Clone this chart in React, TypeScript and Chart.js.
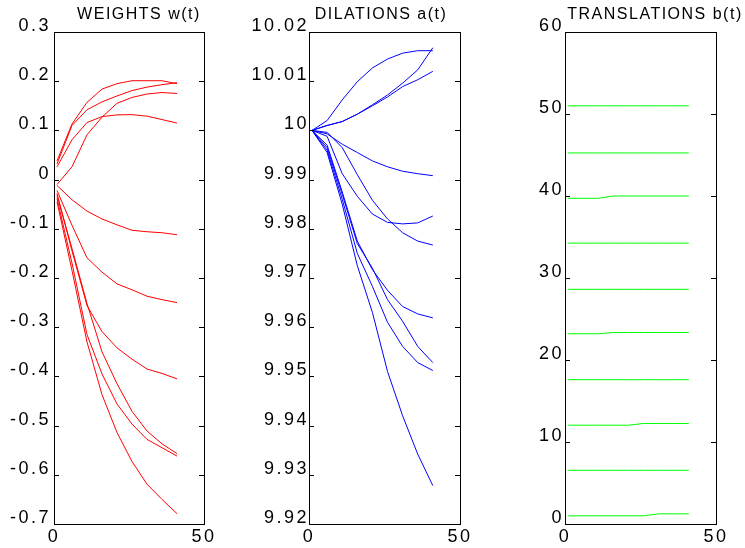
import { useEffect, useRef } from "react";
import { Chart, registerables } from "chart.js";

Chart.register(...registerables);

// Time steps at which the network parameters were sampled
const steps = [1, 6, 11, 16, 21, 26, 31, 36, 41];

// Output weights w(t), one row per wavelet neuron
const weightSeries: number[][] = [
  [0.038, 0.113, 0.157, 0.184, 0.195, 0.201, 0.201, 0.201, 0.195],
  [0.032, 0.11, 0.142, 0.158, 0.17, 0.181, 0.188, 0.193, 0.197],
  [0.026, 0.081, 0.116, 0.128, 0.1315, 0.132, 0.129, 0.122, 0.115],
  [-0.01, 0.026, 0.091, 0.127, 0.155, 0.167, 0.174, 0.177, 0.175],
  [-0.012, -0.041, -0.064, -0.08, -0.092, -0.103, -0.106, -0.108, -0.112],
  [-0.022, -0.093, -0.159, -0.188, -0.212, -0.224, -0.237, -0.244, -0.25],
  [-0.028, -0.145, -0.256, -0.309, -0.342, -0.365, -0.385, -0.394, -0.405],
  [-0.032, -0.14, -0.252, -0.35, -0.415, -0.471, -0.511, -0.537, -0.557],
  [-0.038, -0.17, -0.315, -0.395, -0.456, -0.497, -0.528, -0.545, -0.562],
  [-0.045, -0.185, -0.33, -0.437, -0.514, -0.573, -0.619, -0.65, -0.679],
];

// Dilations a(t)
const dilationSeries: number[][] = [
  [10, 10.002, 10.0062, 10.0099, 10.0127, 10.0145, 10.0157, 10.0162, 10.0162],
  [10, 10.001, 10.0018, 10.0033, 10.0052, 10.0072, 10.0096, 10.0123, 10.0168],
  [10, 10.001, 10.0018, 10.0033, 10.005, 10.0068, 10.0089, 10.0103, 10.012],
  [10, 9.9993, 9.9972, 9.9955, 9.9938, 9.9926, 9.9917, 9.9912, 9.9908],
  [10, 9.9988, 9.9912, 9.9866, 9.983, 9.9813, 9.981, 9.9812, 9.9826],
  [10, 9.9996, 9.9965, 9.991, 9.9858, 9.982, 9.9792, 9.9775, 9.9767],
  [10, 9.997, 9.9875, 9.9775, 9.9717, 9.9675, 9.9642, 9.9627, 9.9619],
  [10, 9.9965, 9.987, 9.977, 9.972, 9.9656, 9.9612, 9.9561, 9.9528],
  [10, 9.996, 9.986, 9.975, 9.9683, 9.961, 9.9561, 9.9528, 9.9512],
  [10, 9.9955, 9.985, 9.9725, 9.963, 9.951, 9.942, 9.9342, 9.9278],
];

// Translations b(t)
const translationSeries: number[][] = [
  [51, 51, 51, 51, 51, 51, 51, 51, 51],
  [45.25, 45.25, 45.25, 45.25, 45.25, 45.25, 45.25, 45.25, 45.25],
  [39.72, 39.72, 39.72, 40, 40, 40, 40, 40, 40],
  [34.25, 34.25, 34.25, 34.25, 34.25, 34.25, 34.25, 34.25, 34.25],
  [28.62, 28.62, 28.62, 28.62, 28.62, 28.62, 28.62, 28.62, 28.62],
  [23.2, 23.2, 23.2, 23.35, 23.35, 23.35, 23.35, 23.35, 23.35],
  [17.6, 17.6, 17.6, 17.6, 17.6, 17.6, 17.6, 17.6, 17.6],
  [12.05, 12.05, 12.05, 12.05, 12.05, 12.26, 12.26, 12.26, 12.26],
  [6.55, 6.55, 6.55, 6.55, 6.55, 6.55, 6.55, 6.55, 6.55],
  [1.0, 1.0, 1.0, 1.0, 1.0, 1.0, 1.24, 1.24, 1.24],
];

const titles = ["WEIGHTS w(t)", "DILATIONS a(t)", "TRANSLATIONS b(t)"];
const colors = ["#ff0000", "#0000ff", "#00ff00"];
const yRanges = [
  { min: -0.7, max: 0.3, step: 0.1, decimals: 2 },
  { min: 9.92, max: 10.02, step: 0.01, decimals: 3 },
  { min: 0, max: 60, step: 10, decimals: 0 },
];
const xRange = { min: 0, max: 50, step: 50 };

const W = 745;
const H = 548;
const FONT = "'Liberation Sans', Arial, Helvetica, sans-serif";
const TICK_FONT_SIZE = 18;

type Layout = { left: number; right: number; titleX: number; labelPad: number };
const layouts: Layout[] = [
  { left: 54, right: 204, titleX: 139, labelPad: 3 },
  { left: 309, right: 460, titleX: 381, labelPad: 0 },
  { left: 565, right: 716, titleX: 655, labelPad: 1 },
];
const AREA_TOP = 32;
const AREA_BOTTOM = 524;

// Box around the plot area, inward tick marks on both sides, and the title
const framePlugin = {
  id: "frame",
  beforeDraw(chart: any) {
    (chart.ctx as any).letterSpacing = "2.5px";
  },
  afterDraw(chart: any, _args: any, opts: any) {
    const { ctx, chartArea } = chart;
    const { left, right, top, bottom } = chartArea;
    ctx.save();
    (ctx as any).letterSpacing = "0px";
    ctx.strokeStyle = "#000";
    ctx.lineWidth = 1;
    ctx.strokeRect(Math.round(left) + 0.5, Math.round(top) + 0.5, Math.round(right - left), Math.round(bottom - top));
    const ys = chart.scales.y;
    ctx.beginPath();
    ys.ticks.forEach((t: any) => {
      const py = Math.round(ys.getPixelForValue(t.value)) + 0.5;
      if (py <= top + 1 || py >= bottom - 1) return;
      ctx.moveTo(left, py);
      ctx.lineTo(left + 5, py);
      ctx.moveTo(right - 5, py);
      ctx.lineTo(right, py);
    });
    ctx.stroke();
    (ctx as any).letterSpacing = "1.5px";
    ctx.fillStyle = "#000";
    ctx.font = `16px ${FONT}`;
    ctx.textAlign = "center";
    ctx.textBaseline = "middle";
    ctx.fillText(opts.title, opts.titleX, 15);
    ctx.restore();
  },
};

function fmt(v: number, decimals: number) {
  return String(parseFloat(Number(v).toFixed(decimals)));
}

function Panel({ index }: { index: number }) {
  const ref = useRef<HTMLCanvasElement | null>(null);
  useEffect(() => {
    const canvas = ref.current;
    if (!canvas) return;
    const series = [weightSeries, dilationSeries, translationSeries][index];
    const lay = layouts[index];
    const yr = yRanges[index];
    const chart = new Chart(canvas, {
      type: "line",
      data: {
        datasets: series.map((row) => ({
          data: row.map((v, i) => ({ x: steps[i], y: v })),
          borderColor: colors[index],
          borderWidth: 1,
          pointRadius: 0,
          tension: 0,
          fill: false,
        })),
      },
      options: {
        responsive: false,
        animation: false,
        devicePixelRatio: 1,
        events: [],
        layout: { padding: { left: 0, right: W - lay.right, top: AREA_TOP, bottom: 0 } },
        plugins: {
          legend: { display: false },
          tooltip: { enabled: false },
          frame: { title: titles[index], titleX: lay.titleX },
        } as any,
        scales: {
          x: {
            type: "linear",
            min: xRange.min,
            max: xRange.max,
            grid: { display: false, drawTicks: false },
            border: { display: false },
            ticks: {
              stepSize: xRange.step,
              autoSkip: false,
              maxRotation: 0,
              padding: 2,
              color: "#000",
              font: { family: FONT, size: TICK_FONT_SIZE },
            },
            afterFit: (s: any) => {
              s.height = H - AREA_BOTTOM;
            },
          },
          y: {
            type: "linear",
            min: yr.min,
            max: yr.max,
            grid: { display: false, drawTicks: false },
            border: { display: false },
            ticks: {
              stepSize: yr.step,
              autoSkip: false,
              padding: lay.labelPad,
              labelOffset: -6,
              color: "#000",
              font: { family: FONT, size: TICK_FONT_SIZE },
              callback: (v: any) => fmt(v, yr.decimals),
            },
            afterFit: (s: any) => {
              s.width = lay.left;
            },
          },
        },
      },
      plugins: [framePlugin],
    });
    return () => chart.destroy();
  }, [index]);
  return (
    <canvas
      ref={ref}
      width={W}
      height={H}
      style={{ position: "absolute", left: 0, top: 0, width: W, height: H }}
    />
  );
}

export default function App() {
  return (
    <div style={{ position: "fixed", left: 0, top: 0, width: W, height: H, background: "#fff" }}>
      <Panel index={0} />
      <Panel index={1} />
      <Panel index={2} />
    </div>
  );
}
